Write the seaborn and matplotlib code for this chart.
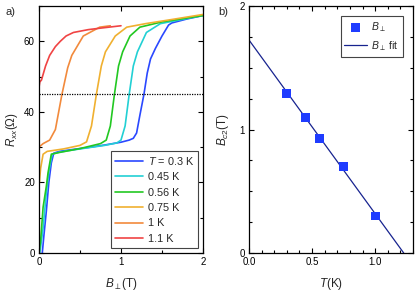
import numpy as np
import pandas as pd
import matplotlib
matplotlib.use("Agg")
import matplotlib.pyplot as plt
import seaborn as sns
from matplotlib.ticker import MultipleLocator, FormatStrFormatter

# ---------------- data (panel a) ----------------
labels = [r"$T$ = 0.3 K", "0.45 K", "0.56 K", "0.75 K", "1 K", "1.1 K"]
colors = ["#2a48ff", "#22d0d4", "#22c822", "#f0b030", "#f28a3c", "#f04444"]

B_03 = [0.04, 0.06, 0.09, 0.12, 0.15, 0.18, 0.25, 0.4, 0.6, 0.8, 1.0, 1.1, 1.15, 1.19,
        1.23, 1.28, 1.32, 1.36, 1.42, 1.5, 1.58, 1.62, 1.8, 2.0]
R_03 = [0, 5, 12, 20, 25.5, 28.3, 28.8, 29.3, 29.9, 30.6, 31.4, 32.0, 32.5, 34,
        39, 45, 51, 55, 58, 61.5, 64.6, 65.2, 66.3, 67.3]

B_045 = [0.01, 0.05, 0.085, 0.12, 0.16, 0.25, 0.5, 0.8, 0.95, 1.0, 1.05, 1.1, 1.15,
         1.2, 1.31, 1.48, 1.7, 2.0]
R_045 = [0, 7, 16, 23, 28, 28.6, 29.5, 30.5, 31.2, 32, 36, 45, 53,
         57, 62.5, 65, 66, 67.3]

B_056 = [0.0, 0.02, 0.05, 0.09, 0.11, 0.15, 0.25, 0.5, 0.75, 0.82, 0.87, 0.92, 0.97,
         1.02, 1.11, 1.23, 1.5, 2.0]
R_056 = [0, 3.5, 13, 19, 22.7, 28, 28.5, 29.6, 31, 32, 36, 45, 53,
         57, 61.5, 64, 65.5, 67.3]

B_075 = [0.0, 0.02, 0.05, 0.1, 0.3, 0.5, 0.58, 0.64, 0.7, 0.76, 0.81, 0.93, 1.07,
         1.3, 1.6, 2.0]
R_075 = [19, 24, 28, 28.8, 29.5, 30.5, 31.5, 36, 45, 53, 57, 61.5, 64,
         65, 66.1, 67.6]

B_1 = [0.0, 0.05, 0.13, 0.2, 0.28, 0.35, 0.4, 0.54, 0.74, 0.87]
R_1 = [30, 31, 32, 35, 45, 52.5, 56, 61.5, 64, 64.4]

B_11 = [0.0, 0.01, 0.03, 0.08, 0.13, 0.2, 0.26, 0.33, 0.42, 0.6, 0.74, 1.0]
R_11 = [47, 48.5, 49, 53, 56, 58.5, 60, 61.5, 62.5, 63.3, 63.7, 64.4]

curves_B = [B_03, B_045, B_056, B_075, B_1, B_11]
curves_R = [R_03, R_045, R_056, R_075, R_1, R_11]
threshold = 45

# ---------------- data (panel b) ----------------
T_pts = [0.3, 0.45, 0.56, 0.75, 1.0]
Bc2_pts = [1.29, 1.1, 0.93, 0.70, 0.30]

# ---------------- style ----------------
sns.set_style("ticks")
plt.rcParams["font.family"] = ["Liberation Sans", "DejaVu Sans"]
plt.rcParams["mathtext.fontset"] = "custom"
plt.rcParams["mathtext.rm"] = "Liberation Sans"
plt.rcParams["mathtext.it"] = "Liberation Sans:italic"
plt.rcParams["mathtext.bf"] = "Liberation Sans:bold"

fig = plt.figure(figsize=(4.15, 2.92), dpi=100)
axa = fig.add_axes([39/415, 39/292, 164/415, 247/292])
axb = fig.add_axes([249/415, 39/292, 164/415, 247/292])

for ax in (axa, axb):
    ax.tick_params(which="both", direction="in", top=True, right=True,
                   labelsize=7, width=0.8, colors="black", pad=3)
    ax.tick_params(which="major", length=3.5)
    ax.tick_params(which="minor", length=2)
    for s in ax.spines.values():
        s.set_linewidth(0.9)
        s.set_color("black")

# panel a
for Bv, Rv, c, lab in zip(curves_B, curves_R, colors, labels):
    df = pd.DataFrame({"B": Bv, "R": Rv})
    sns.lineplot(data=df, x="B", y="R", ax=axa, color=c, lw=1.2,
                 sort=False, estimator=None, label=lab)
sns.lineplot(x=[0, 2], y=[threshold, threshold], ax=axa, color="black",
             lw=0.9, linestyle=(0, (1, 1)), estimator=None)
axa.set_xlim(0, 2)
axa.set_ylim(0, 70)
axa.xaxis.set_major_locator(MultipleLocator(1))
axa.xaxis.set_minor_locator(MultipleLocator(0.5))
axa.yaxis.set_major_locator(MultipleLocator(20))
axa.yaxis.set_minor_locator(MultipleLocator(10))
axa.set_xlabel(r"$B_{\perp}$(T)", fontsize=8.5, labelpad=6)
axa.set_ylabel(r"$R_{xx}$($\Omega$)", fontsize=8.5, labelpad=3)
leg = axa.legend(loc="lower right", fontsize=7.8, frameon=True, fancybox=False,
                 edgecolor="#444444", framealpha=1, handlelength=2.6,
                 labelspacing=0.5, borderpad=0.35, handletextpad=0.4,
                 borderaxespad=0.5)
leg.get_frame().set_linewidth(0.8)

# panel b
sns.scatterplot(x=T_pts, y=Bc2_pts, ax=axb, marker="s", s=40, color="#1f3cff",
                edgecolor="none", label=r"$B_{\perp}$", zorder=3)
slope, intercept = np.polyfit(T_pts, Bc2_pts, 1)
T_fit = np.array([0.0, -intercept / slope])
sns.lineplot(x=T_fit, y=slope * T_fit + intercept, ax=axb, color="#17238f",
             lw=0.9, estimator=None, label=r"$B_{\perp}$ fit")
axb.set_xlim(0, 1.3)
axb.set_ylim(0, 2)
axb.xaxis.set_major_locator(MultipleLocator(0.5))
axb.xaxis.set_minor_locator(MultipleLocator(0.1))
axb.xaxis.set_major_formatter(FormatStrFormatter("%.1f"))
axb.yaxis.set_major_locator(MultipleLocator(1))
axb.yaxis.set_minor_locator(MultipleLocator(0.25))
axb.set_xlabel(r"$T$(K)", fontsize=8.5, labelpad=6)
axb.set_ylabel(r"$B_{c2}$(T)", fontsize=8.5, labelpad=6)
legb = axb.legend(loc="upper right", fontsize=7.5, frameon=True, fancybox=False,
                  edgecolor="#444444", framealpha=1, handlelength=2.2,
                  labelspacing=0.5, borderpad=0.35, handletextpad=0.4,
                  borderaxespad=1.0)
legb.get_frame().set_linewidth(0.8)

fig.text(5/415, 1 - 12/292, "a)", fontsize=8, va="center", ha="left")
fig.text(218/415, 1 - 12/292, "b)", fontsize=8, va="center", ha="left")

fig.savefig("out.png", dpi=100)
